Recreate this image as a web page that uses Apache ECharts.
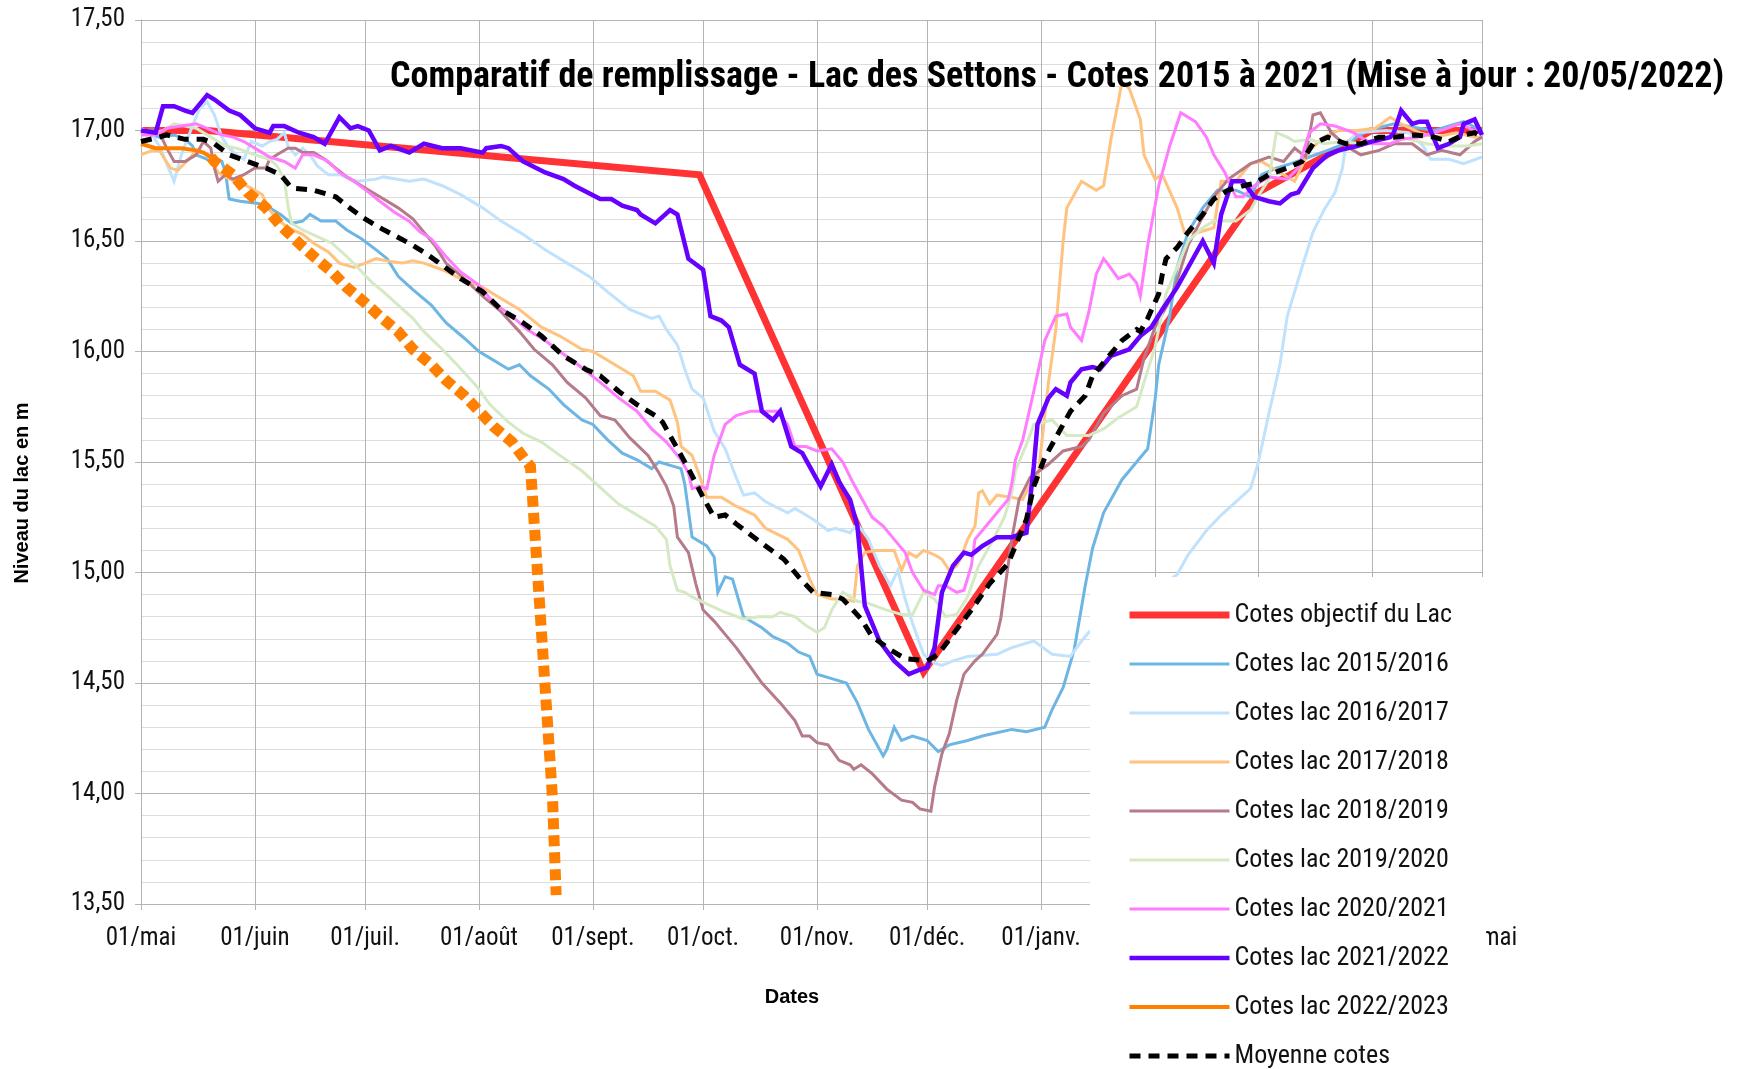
<!DOCTYPE html>
<html>
<head>
<meta charset="utf-8">
<title>Lac des Settons</title>
<script src="https://cdn.jsdelivr.net/npm/echarts@6/dist/echarts.min.js"></script>
<style>
    html, body { margin: 0; padding: 0; background: #fff; }
    #chart { width: 1739px; height: 1069px; }
</style>
</head>
<body>
<div id="chart"></div>
<script>
// axe des dates : une saison du 01/mai au 01/mai suivant
var debutsMois = [0, 31, 61, 92, 123, 153, 184, 214, 245, 276, 304, 335, 365];
var moisLabels = ['01/mai', '01/juin', '01/juil.', '01/août', '01/sept.', '01/oct.', '01/nov.', '01/déc.', '01/janv.', '01/févr.', '01/mars', '01/avr.', '01/mai'];

// [jour de la saison, cote en m]
var cotesObjectif = [[0, 17.00], [18, 17.00], [152, 16.80], [213, 14.55], [304, 16.72], [335, 17.00], [365, 17.00]];

var cotes2015 = [[0,16.99],[3,16.98],[5,16.97],[9,16.98],[12,16.96],[14,16.93],[15,16.89],[18,16.87],[22,16.86],[23,16.81],[24,16.69],[27,16.68],[32,16.67],[35,16.65],[38,16.62],[41,16.58],[44,16.59],[46,16.62],[49,16.59],[53,16.59],[56,16.55],[60,16.51],[64,16.46],[67,16.42],[70,16.34],[74,16.28],[79,16.21],[83,16.13],[88,16.06],[92,16.00],[95,15.97],[100,15.92],[103,15.94],[106,15.89],[111,15.83],[115,15.76],[120,15.69],[123,15.67],[127,15.60],[131,15.54],[135,15.51],[139,15.47],[141,15.50],[145,15.48],[147,15.47],[148,15.40],[150,15.16],[154,15.12],[156,15.07],[157,14.91],[159,14.98],[161,14.97],[164,14.80],[169,14.75],[172,14.71],[176,14.68],[179,14.64],[182,14.62],[184,14.54],[188,14.52],[192,14.50],[195,14.41],[198,14.29],[202,14.17],[203,14.20],[205,14.30],[207,14.24],[210,14.26],[214,14.24],[217,14.19],[220,14.22],[225,14.24],[229,14.26],[237,14.29],[241,14.28],[246,14.30],[248,14.38],[251,14.48],[254,14.65],[257,14.94],[259,15.11],[262,15.27],[267,15.42],[272,15.52],[274,15.56],[276,15.78],[277,15.94],[280,16.16],[282,16.38],[285,16.54],[289,16.65],[293,16.73],[298,16.73],[302,16.70],[305,16.80],[309,16.83],[313,16.85],[318,16.88],[323,16.91],[329,16.95],[334,17.00],[341,17.03],[348,17.01],[352,17.00],[360,17.04],[365,17.00]];

var cotes2016 = [[0,17.01],[3,16.98],[5,16.93],[9,16.77],[11,16.89],[14,17.02],[16,17.10],[18,17.13],[20,17.07],[22,16.97],[24,16.92],[26,16.89],[28,16.87],[30,16.95],[33,16.93],[35,16.95],[37,16.96],[39,16.99],[40,16.93],[42,16.89],[44,16.92],[46,16.89],[48,16.84],[51,16.80],[54,16.80],[59,16.77],[64,16.78],[66,16.79],[73,16.77],[77,16.78],[82,16.75],[87,16.71],[93,16.65],[98,16.59],[104,16.53],[110,16.46],[116,16.40],[122,16.34],[127,16.27],[133,16.19],[139,16.15],[141,16.16],[143,16.10],[146,16.03],[148,15.92],[150,15.83],[153,15.79],[156,15.64],[159,15.56],[162,15.43],[164,15.35],[167,15.36],[170,15.32],[176,15.27],[178,15.29],[183,15.24],[187,15.19],[189,15.20],[193,15.18],[195,15.22],[198,15.15],[201,15.03],[204,14.94],[206,15.01],[208,14.88],[210,14.77],[213,14.63],[216,14.59],[218,14.58],[221,14.60],[225,14.62],[233,14.63],[237,14.66],[243,14.69],[248,14.63],[253,14.62],[256,14.69],[258,14.73],[282,14.99],[285,15.08],[290,15.19],[294,15.26],[298,15.32],[302,15.38],[304,15.49],[307,15.72],[310,15.94],[312,16.16],[316,16.38],[319,16.54],[322,16.64],[325,16.72],[327,16.83],[328,16.94],[331,16.99],[339,17.00],[345,16.99],[349,16.93],[351,16.87],[356,16.87],[360,16.85],[365,16.88]];

var cotes2017 = [[0,16.89],[3,16.91],[5,16.91],[8,16.83],[10,16.82],[13,16.87],[15,16.91],[18,16.89],[21,16.81],[24,16.78],[26,16.77],[30,16.74],[33,16.71],[35,16.64],[37,16.60],[40,16.56],[44,16.53],[47,16.49],[51,16.45],[54,16.40],[58,16.38],[61,16.40],[64,16.42],[67,16.41],[71,16.40],[74,16.41],[77,16.40],[82,16.37],[87,16.33],[93,16.29],[98,16.24],[103,16.19],[109,16.11],[114,16.07],[120,16.01],[123,16.00],[128,15.95],[134,15.89],[136,15.82],[140,15.82],[144,15.78],[146,15.68],[147,15.57],[150,15.53],[152,15.44],[154,15.34],[158,15.34],[162,15.30],[167,15.26],[170,15.20],[176,15.15],[179,15.10],[182,14.97],[184,14.90],[188,14.88],[191,14.88],[194,14.87],[195,15.03],[197,15.09],[200,15.10],[205,15.10],[207,15.01],[209,15.09],[211,15.07],[213,15.10],[216,15.08],[218,15.06],[220,15.01],[222,15.03],[223,15.06],[225,15.15],[227,15.21],[228,15.36],[229,15.37],[231,15.31],[233,15.35],[237,15.34],[240,15.33],[242,15.40],[244,15.41],[247,15.86],[249,16.10],[251,16.50],[252,16.65],[256,16.77],[260,16.73],[262,16.75],[263,16.85],[264,16.96],[266,17.13],[267,17.22],[269,17.19],[272,17.05],[273,16.89],[276,16.78],[278,16.80],[282,16.65],[284,16.54],[288,16.54],[292,16.56],[294,16.77],[298,16.77],[302,16.85],[305,16.86],[310,16.81],[314,16.77],[318,16.91],[322,16.97],[326,17.00],[331,17.00],[336,17.01],[340,17.06],[343,17.03],[348,16.99],[352,16.97],[358,16.99],[363,16.97],[365,16.97]];

var cotes2018 = [[0,16.99],[3,17.01],[5,16.99],[7,16.92],[9,16.86],[12,16.86],[15,16.89],[17,16.95],[19,16.92],[20,16.83],[21,16.77],[23,16.80],[25,16.78],[28,16.80],[31,16.83],[34,16.83],[35,16.87],[37,16.89],[40,16.92],[42,16.92],[44,16.90],[47,16.90],[50,16.87],[53,16.83],[56,16.79],[60,16.75],[65,16.70],[70,16.65],[74,16.60],[77,16.54],[80,16.48],[83,16.40],[88,16.33],[93,16.25],[98,16.18],[103,16.09],[107,16.01],[112,15.94],[116,15.86],[121,15.79],[125,15.71],[129,15.69],[133,15.61],[138,15.53],[141,15.45],[143,15.39],[145,15.30],[146,15.16],[149,15.09],[151,14.95],[153,14.83],[156,14.78],[159,14.72],[162,14.66],[166,14.57],[169,14.50],[174,14.41],[178,14.33],[180,14.26],[182,14.26],[184,14.23],[187,14.22],[190,14.15],[193,14.13],[194,14.11],[196,14.13],[199,14.09],[203,14.02],[207,13.97],[210,13.96],[212,13.93],[215,13.92],[216,14.03],[218,14.18],[220,14.27],[222,14.42],[224,14.54],[227,14.60],[229,14.63],[233,14.72],[234,14.79],[235,14.91],[236,15.03],[237,15.15],[239,15.33],[242,15.43],[247,15.49],[251,15.55],[256,15.57],[258,15.60],[262,15.72],[267,15.80],[271,15.83],[273,15.97],[276,16.11],[280,16.23],[282,16.32],[285,16.48],[289,16.61],[292,16.70],[296,16.78],[302,16.85],[307,16.88],[311,16.86],[314,16.92],[317,16.88],[319,17.07],[321,17.08],[324,16.99],[328,16.93],[332,16.89],[337,16.91],[341,16.94],[346,16.94],[350,16.89],[354,16.91],[359,16.89],[363,16.95],[365,16.97]];

var cotes2019 = [[0,16.98],[4,16.99],[6,17.00],[9,17.03],[12,17.02],[15,17.01],[19,16.97],[23,16.93],[26,16.92],[31,16.89],[35,16.87],[37,16.84],[39,16.78],[40,16.66],[41,16.58],[44,16.55],[48,16.52],[52,16.49],[56,16.43],[59,16.38],[63,16.31],[66,16.27],[70,16.21],[74,16.15],[77,16.09],[82,16.01],[86,15.94],[91,15.85],[95,15.76],[100,15.68],[104,15.63],[109,15.59],[114,15.53],[120,15.46],[124,15.40],[130,15.31],[134,15.27],[140,15.21],[143,15.15],[144,15.03],[146,14.92],[148,14.91],[150,14.89],[155,14.85],[159,14.82],[164,14.79],[168,14.80],[172,14.80],[174,14.82],[178,14.80],[181,14.76],[184,14.73],[186,14.75],[188,14.83],[191,14.91],[195,14.87],[198,14.86],[203,14.83],[207,14.81],[210,14.81],[213,14.91],[216,14.88],[219,14.80],[222,14.81],[225,14.89],[228,15.03],[232,15.15],[235,15.25],[237,15.36],[238,15.46],[241,15.58],[243,15.67],[248,15.69],[252,15.62],[258,15.62],[262,15.65],[266,15.70],[271,15.75],[273,15.86],[276,16.02],[279,16.26],[282,16.38],[285,16.50],[289,16.56],[292,16.59],[298,16.59],[302,16.64],[304,16.70],[307,16.78],[309,16.99],[312,16.97],[314,16.95],[318,16.96],[322,16.94],[327,16.95],[332,16.94],[338,16.97],[343,16.97],[350,16.94],[355,16.93],[361,16.93],[365,16.94]];

var cotes2020 = [[0,16.98],[4,16.98],[7,17.01],[11,17.02],[15,17.03],[18,17.01],[22,16.98],[25,16.97],[28,16.95],[32,16.91],[35,16.88],[39,16.86],[42,16.83],[44,16.89],[47,16.89],[51,16.86],[54,16.81],[58,16.77],[62,16.72],[65,16.68],[69,16.63],[73,16.59],[76,16.54],[79,16.51],[83,16.43],[87,16.36],[92,16.30],[96,16.22],[101,16.16],[105,16.10],[110,16.05],[114,16.00],[119,15.94],[125,15.86],[130,15.79],[135,15.73],[139,15.65],[143,15.59],[147,15.51],[149,15.45],[150,15.38],[152,15.39],[154,15.38],[156,15.53],[159,15.67],[162,15.71],[166,15.73],[169,15.73],[173,15.73],[176,15.67],[178,15.57],[181,15.57],[184,15.55],[188,15.56],[191,15.50],[194,15.40],[197,15.31],[199,15.25],[202,15.21],[205,15.15],[208,15.09],[210,15.00],[213,14.92],[216,14.90],[217,14.94],[219,14.94],[222,14.91],[224,14.92],[226,15.03],[227,15.15],[229,15.19],[233,15.27],[236,15.33],[237,15.40],[238,15.51],[240,15.60],[243,15.82],[246,16.05],[249,16.16],[252,16.17],[253,16.11],[256,16.05],[258,16.18],[260,16.35],[262,16.42],[263,16.40],[266,16.33],[269,16.35],[271,16.31],[272,16.25],[274,16.48],[277,16.75],[280,16.93],[283,17.08],[287,17.04],[290,16.97],[292,16.89],[295,16.81],[298,16.70],[300,16.70],[303,16.75],[307,16.79],[312,16.78],[315,16.83],[318,16.99],[321,17.03],[325,17.02],[330,16.99],[335,16.94],[340,16.94],[343,16.96],[348,16.97],[352,16.99],[359,17.03],[363,17.00],[365,16.99]];

var cotes2021 = [[0,17.00],[4,16.99],[6,17.11],[9,17.11],[12,17.09],[14,17.08],[18,17.16],[20,17.14],[24,17.09],[27,17.07],[31,17.01],[35,16.99],[36,17.02],[39,17.02],[43,16.99],[47,16.97],[50,16.94],[54,17.06],[57,17.01],[59,17.02],[62,17.00],[65,16.91],[68,16.93],[73,16.90],[77,16.94],[82,16.92],[87,16.92],[93,16.90],[94,16.92],[98,16.93],[100,16.92],[104,16.86],[110,16.81],[115,16.78],[118,16.75],[125,16.69],[128,16.69],[131,16.66],[135,16.64],[136,16.62],[140,16.58],[144,16.64],[146,16.62],[149,16.42],[153,16.37],[155,16.16],[158,16.14],[160,16.11],[163,15.94],[167,15.90],[169,15.73],[172,15.69],[174,15.73],[177,15.57],[180,15.54],[185,15.39],[188,15.49],[190,15.41],[193,15.33],[195,15.21],[197,14.85],[201,14.69],[205,14.60],[209,14.54],[212,14.56],[214,14.57],[216,14.66],[218,14.91],[221,15.03],[224,15.09],[226,15.08],[229,15.12],[233,15.16],[237,15.16],[241,15.18],[243,15.48],[244,15.67],[247,15.79],[249,15.83],[252,15.80],[253,15.86],[256,15.92],[259,15.93],[261,15.92],[264,15.98],[269,16.01],[272,16.07],[275,16.11],[278,16.19],[282,16.29],[285,16.38],[289,16.50],[292,16.40],[294,16.62],[296,16.72],[297,16.77],[300,16.77],[303,16.70],[307,16.68],[310,16.67],[313,16.71],[315,16.72],[319,16.83],[323,16.89],[326,16.91],[331,16.93],[335,16.95],[340,16.97],[341,16.99],[343,17.09],[346,17.03],[348,17.04],[350,17.04],[353,16.92],[356,16.94],[359,16.97],[360,17.03],[363,17.05],[365,16.98]];

// 2022/2023 : relevés jusqu'au 20/05/2022 puis prolongement en pointillés
var cotes2022 = [[0,16.94],[4,16.92],[7,16.92],[11,16.92],[15,16.91],[17,16.90],[19,16.88]];
var cotes2022Suite = [[19,16.88],[20,16.86],[25,16.80],[29,16.72],[34,16.65],[38,16.57],[43,16.49],[47,16.43],[52,16.36],[56,16.29],[61,16.22],[65,16.16],[70,16.09],[74,16.01],[79,15.94],[83,15.87],[88,15.80],[92,15.73],[96,15.66],[101,15.59],[105,15.50],[106,15.48],[108,14.98],[110,14.48],[112,13.98],[113,13.54]];

var cotesMoyenne = [[0,16.95],[5,16.97],[7,16.98],[12,16.96],[17,16.96],[20,16.94],[24,16.89],[29,16.86],[34,16.83],[38,16.80],[41,16.74],[47,16.73],[53,16.70],[56,16.66],[60,16.61],[65,16.56],[73,16.49],[77,16.45],[82,16.39],[87,16.33],[93,16.27],[98,16.19],[104,16.13],[109,16.07],[115,15.98],[121,15.92],[125,15.89],[130,15.82],[135,15.76],[140,15.71],[142,15.68],[145,15.59],[149,15.47],[153,15.34],[156,15.25],[159,15.26],[162,15.22],[166,15.17],[170,15.12],[175,15.06],[179,14.98],[183,14.91],[188,14.90],[191,14.88],[196,14.79],[199,14.71],[204,14.65],[208,14.61],[214,14.60],[217,14.63],[221,14.72],[226,14.83],[231,14.95],[236,15.04],[239,15.16],[241,15.24],[243,15.39],[246,15.52],[250,15.64],[253,15.73],[257,15.80],[259,15.89],[263,15.97],[267,16.05],[271,16.10],[272,16.09],[274,16.15],[277,16.26],[278,16.35],[279,16.42],[282,16.47],[285,16.54],[289,16.62],[292,16.69],[296,16.73],[300,16.75],[303,16.76],[307,16.80],[312,16.83],[316,16.86],[319,16.94],[323,16.97],[328,16.94],[332,16.94],[337,16.97],[341,16.97],[347,16.98],[352,16.97],[356,16.95],[360,16.98],[363,16.99],[365,16.97]];

var nomsSeries = ['Cotes objectif du Lac', 'Cotes lac 2015/2016', 'Cotes lac 2016/2017', 'Cotes lac 2017/2018', 'Cotes lac 2018/2019', 'Cotes lac 2019/2020', 'Cotes lac 2020/2021', 'Cotes lac 2021/2022', 'Cotes lac 2022/2023', 'Moyenne cotes'];

// catégories : chaque jour de la saison
var jours = [];
for (var i = 0; i <= 365; i++) {
    var d = new Date(2021, 4, 1 + i);
    jours.push(d.getFullYear() + '-' + (d.getMonth() + 1) + '-' + d.getDate());
}

var policeEtroite = "'Roboto Condensed', sans-serif";
var gris = '#b3b3b3';

function estDebutMois(index) {
    return debutsMois.indexOf(index) >= 0;
}

function ligne(nom, data, couleur, largeur, type) {
    return {
        name: nom,
        type: 'line',
        data: data,
        symbol: 'none',
        smooth: false,
        lineStyle: { color: couleur, width: largeur, type: type || 'solid', cap: 'butt', join: 'miter' },
        itemStyle: { color: couleur },
        emphasis: { disabled: true }
    };
}

var myChart = echarts.init(document.getElementById('chart'), null, { renderer: 'canvas' });

var option = {
    animation: false,
    backgroundColor: '#fff',
    title: {
        text: 'Comparatif de remplissage - Lac des Settons - Cotes 2015 à 2021 (Mise à jour : 20/05/2022)',
        left: 390,
        top: 60,
        padding: 0,
        textStyle: { fontFamily: policeEtroite, fontSize: 36, fontWeight: 'bold', color: '#000' }
    },
    grid: { left: 141, top: 20, width: 1341, height: 884, containLabel: false },
    legend: {
        orient: 'vertical',
        left: 1090,
        top: 577,
        height: 600,
        padding: [23, 34, 10, 36],
        itemWidth: 100,
        itemHeight: 14,
        itemGap: 19,
        backgroundColor: '#fff',
        selectedMode: false,
        itemStyle: { opacity: 0 },
        lineStyle: { width: 'inherit' },
        textStyle: { fontFamily: policeEtroite, fontSize: 26, color: '#111', lineHeight: 30 },
        data: nomsSeries
    },
    xAxis: {
        type: 'category',
        data: jours,
        boundaryGap: false,
        axisLine: { lineStyle: { color: gris } },
        axisTick: { show: true, length: 6, interval: estDebutMois, lineStyle: { color: gris } },
        axisLabel: {
            interval: estDebutMois,
            margin: 22,
            fontFamily: policeEtroite,
            fontSize: 25,
            color: '#111',
            formatter: function (value, index) {
                var k = debutsMois.indexOf(index);
                return k >= 0 ? moisLabels[k] : '';
            }
        },
        splitLine: { show: true, interval: estDebutMois, lineStyle: { color: gris, width: 1 } }
    },
    yAxis: {
        type: 'value',
        min: 13.5,
        max: 17.5,
        interval: 0.5,
        axisLine: { show: true, lineStyle: { color: gris } },
        axisTick: { show: true, length: 6, lineStyle: { color: gris } },
        axisLabel: {
            margin: 16,
            fontFamily: policeEtroite,
            fontSize: 25,
            color: '#111',
            formatter: function (v) {
                return v.toFixed(2).replace('.', ',');
            }
        },
        splitLine: { show: true, lineStyle: { color: gris, width: 1 } },
        minorTick: { show: false, splitNumber: 5 },
        minorSplitLine: { show: true, lineStyle: { color: '#dddddd', width: 1 } }
    },
    graphic: [
        {
            type: 'text',
            x: 22,
            y: 493,
            rotation: Math.PI / 2,
            style: { text: 'Niveau du lac en m', font: "bold 20px 'Liberation Sans', Arial, sans-serif", fill: '#000', align: 'center', verticalAlign: 'middle' }
        },
        {
            type: 'text',
            x: 792,
            y: 997,
            style: { text: 'Dates', font: "bold 20px 'Liberation Sans', Arial, sans-serif", fill: '#000', align: 'center', verticalAlign: 'middle' }
        }
    ],
    series: [
        ligne(nomsSeries[0], cotesObjectif, '#ff3333', 7),
        ligne(nomsSeries[1], cotes2015, '#6db6e3', 3),
        ligne(nomsSeries[2], cotes2016, '#c0e2fc', 3),
        ligne(nomsSeries[3], cotes2017, '#ffc27f', 3),
        ligne(nomsSeries[4], cotes2018, '#b57b89', 3),
        ligne(nomsSeries[5], cotes2019, '#d5e9c4', 3),
        ligne(nomsSeries[6], cotes2020, '#ff7cff', 3),
        ligne(nomsSeries[7], cotes2021, '#6600ff', 4.5),
        ligne(nomsSeries[8], cotes2022, '#ff8000', 4),
        ligne(nomsSeries[8], cotes2022Suite, '#ff8000', 11, [11, 6]),
        ligne(nomsSeries[9], cotesMoyenne, '#000000', 5, [11, 8])
    ]
};

// rendu du graphique
myChart.setOption(option);
</script>
</body>
</html>
